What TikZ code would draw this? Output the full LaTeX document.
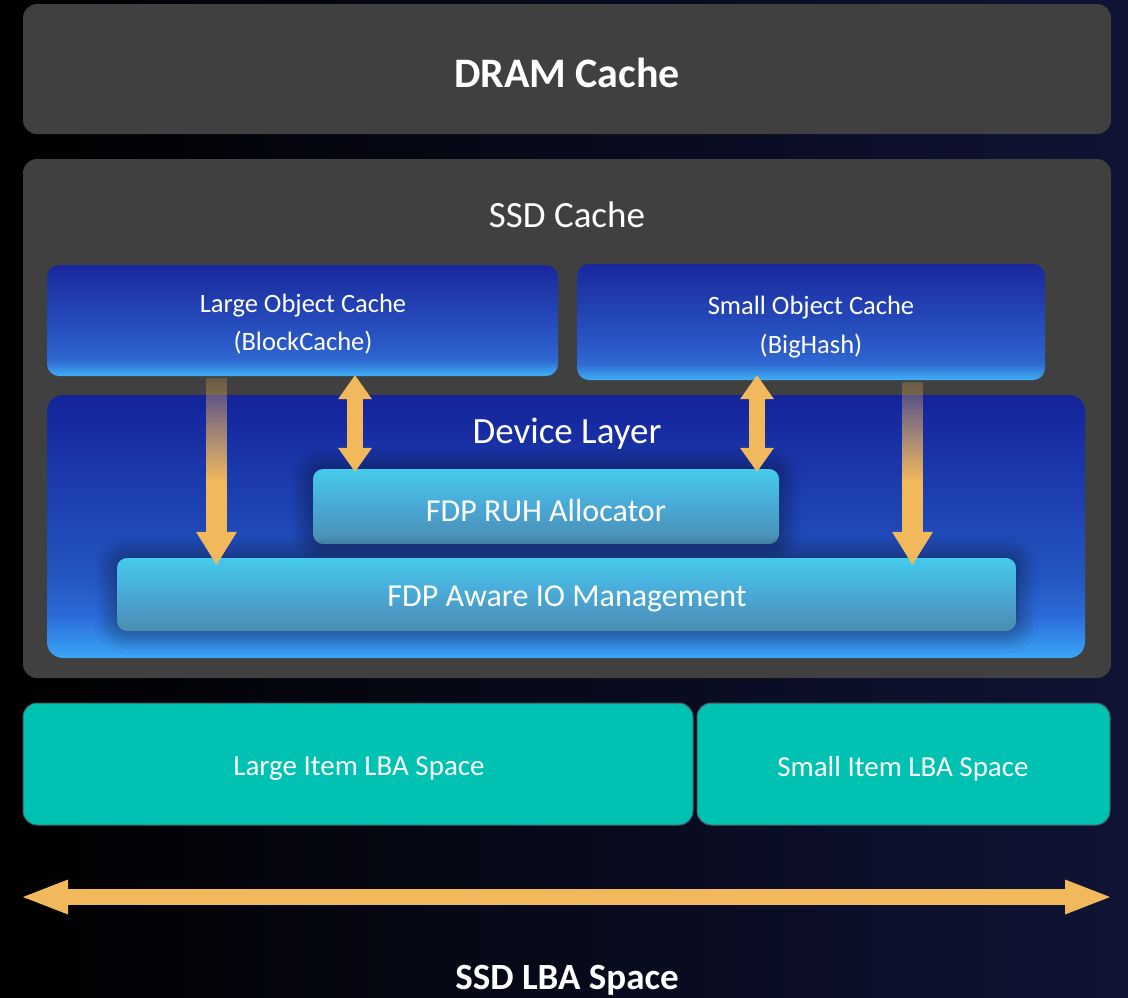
\documentclass[tikz,border=0pt]{standalone}
\usepackage{fontspec}
\setmainfont{Carlito}
\usetikzlibrary{arrows.meta,shadows.blur,fadings,calc}

\definecolor{bgL}{HTML}{000000}
\definecolor{bgR}{HTML}{0F1435}
\definecolor{panel}{HTML}{404040}
\definecolor{arrowc}{HTML}{F2B85C}
\definecolor{tealc}{HTML}{00C2B2}
\definecolor{tealborder}{HTML}{4A5A60}
% object cache gradient
\definecolor{ocA}{HTML}{19289C}
\definecolor{ocB}{HTML}{2A58C6}
\definecolor{ocC}{HTML}{2F6AD0}
\definecolor{ocD}{HTML}{40B0F8}
% device layer gradient
\definecolor{dvA}{HTML}{14239A}
\definecolor{dvB}{HTML}{2456C0}
\definecolor{dvC}{HTML}{2C6CD8}
\definecolor{dvD}{HTML}{3AA6F8}
% fdp gradient
\definecolor{fdA}{HTML}{45CBEC}
\definecolor{fdB}{HTML}{4AA8D6}
\definecolor{fdC}{HTML}{4A8CB0}

\pgfdeclareverticalshading{objshade}{100bp}{color(0bp)=(ocD); color(25bp)=(ocD); color(32bp)=(ocC); color(40bp)=(ocB); color(75bp)=(ocA); color(100bp)=(ocA)}
\pgfdeclareverticalshading{devshade}{100bp}{color(0bp)=(dvD); color(25bp)=(dvD); color(33bp)=(dvC); color(40bp)=(dvB); color(75bp)=(dvA); color(100bp)=(dvA)}
\pgfdeclareverticalshading{fdpshade}{100bp}{color(0bp)=(fdC); color(25bp)=(fdC); color(50bp)=(fdB); color(75bp)=(fdA); color(100bp)=(fdA)}

\tikzfading[name=shaftfade, top color=transparent!78, bottom color=transparent!0]

\tikzset{
  panelbox/.style={rectangle, rounded corners=14pt, fill=panel, inner sep=0pt},
  objbox/.style={rectangle, rounded corners=12pt, shading=objshade, inner sep=0pt},
  devbox/.style={rectangle, rounded corners=16pt, shading=devshade, inner sep=0pt},
  fdpbox/.style={rectangle, rounded corners=10pt, shading=fdpshade, inner sep=0pt,
    blur shadow={shadow xshift=0pt, shadow yshift=0pt, shadow blur radius=22pt, shadow blur steps=24, shadow opacity=55, shadow scale=1}},
  lbabox/.style={rectangle, rounded corners=14pt, fill=tealc, draw=tealborder, line width=1pt, inner sep=0pt},
  lbl/.style={text=white, inner sep=0pt},
  objtxt/.style={lbl, align=center, font=\fontsize{26.5}{38}\selectfont},
  fdptxt/.style={lbl, font=\fontsize{32}{38}\selectfont},
  lbatxt/.style={lbl, font=\fontsize{29}{34}\selectfont},
  dblarrow/.style={arrowc, line width=16pt,
    {Triangle[width=34pt,length=24pt,line width=0pt]}-{Triangle[width=34pt,length=24pt,line width=0pt]}},
  downarrow/.style={arrowc, line width=21pt, -{Triangle[width=41pt,length=33pt,line width=0pt]}},
  hzarrow/.style={arrowc, line width=16pt,
    {Triangle[width=35pt,length=45pt,line width=0pt]}-{Triangle[width=35pt,length=45pt,line width=0pt]}},
}

\begin{document}
\begin{tikzpicture}[x=1pt,y=-1pt]
  % background
  \path[use as bounding box, left color=bgL, right color=bgR] (0,0) rectangle (1128,997);

  % DRAM cache
  \node[panelbox, minimum width=1088pt, minimum height=130pt] (dram) at (567,69) {};
  \node[lbl, font=\bfseries\fontsize{42}{50}\selectfont] (dramtxt) at (567,73) {DRAM Cache};

  % SSD cache panel
  \node[panelbox, minimum width=1088pt, minimum height=519pt] (ssd) at (567,418.5) {};
  \node[lbl, font=\fontsize{37}{44}\selectfont] (ssdlbl) at (567,215) {SSD Cache};

  % object caches
  \node[objbox, minimum width=511pt, minimum height=111pt] (loc) at (302.5,320.5) {};
  \node[objtxt] (loctxt) at (303,324.5) {Large Object Cache\\(BlockCache)};
  \node[objbox, minimum width=468pt, minimum height=116pt] (soc) at (811,322) {};
  \node[objtxt, font=\fontsize{26.5}{39}\selectfont] (soctxt) at (811,327.5) {Small Object Cache\\(BigHash)};

  % device layer
  \node[devbox, minimum width=1038pt, minimum height=263pt] (dev) at (566,526.5) {};
  \node[lbl, font=\fontsize{37}{44}\selectfont] (devlbl) at (567,433.5) {Device Layer};

  % FDP boxes
  \node[fdpbox, minimum width=466pt, minimum height=75pt] (ruh) at (546,506.5) {};
  \node[fdpbox, minimum width=899pt, minimum height=73pt] (io) at (566.5,594.5) {};
  \node[fdptxt] (ruhtxt) at (546,510) {FDP RUH Allocator};
  \node[fdptxt] (iotxt) at (567,599) {FDP Aware IO Management};

  % arrow columns
  \coordinate (c1) at (355,0);
  \coordinate (c2) at (757,0);
  \coordinate (c3) at (216.5,0);
  \coordinate (c4) at (912.5,0);
  \coordinate (fadeEnd) at (0,482);

  % double arrows
  \draw[dblarrow] ([yshift=1pt]c1 |- loc.south) -- ([yshift=-3pt]c1 |- ruh.north);
  \draw[dblarrow] ([yshift=5pt]c2 |- soc.south) -- ([yshift=-3pt]c2 |- ruh.north);

  % down arrows with faded shafts
  \fill[arrowc, path fading=shaftfade] ([xshift=-10.5pt,yshift=-2pt]c3 |- loc.south) rectangle ([xshift=10.5pt]c3 |- fadeEnd);
  \draw[downarrow] ([yshift=1pt]c3 |- fadeEnd) -- ([yshift=-7pt]c3 |- io.north);
  \fill[arrowc, path fading=shaftfade] ([xshift=-10.5pt,yshift=-2pt]c4 |- soc.south) rectangle ([xshift=10.5pt]c4 |- fadeEnd);
  \draw[downarrow] ([yshift=1pt]c4 |- fadeEnd) -- ([yshift=-7pt]c4 |- io.north);

  % LBA spaces
  \node[lbabox, minimum width=670pt, minimum height=122pt] (lil) at (358,764) {};
  \node[lbabox, minimum width=413pt, minimum height=122pt] (sil) at (903.5,764) {};
  \node[lbatxt] (liltxt) at (359,768.5) {Large Item LBA Space};
  \node[lbatxt] (siltxt) at (903,768.5) {Small Item LBA Space};

  % SSD LBA space arrow
  \coordinate (lbaL) at (23,897);
  \coordinate (lbaR) at (1110,897);
  \draw[hzarrow] (lbaL) -- (lbaR);
  \node[lbl, font=\bfseries\fontsize{37}{42}\selectfont] (ssdlba) at (567,980) {SSD LBA Space};
\end{tikzpicture}
\end{document}
